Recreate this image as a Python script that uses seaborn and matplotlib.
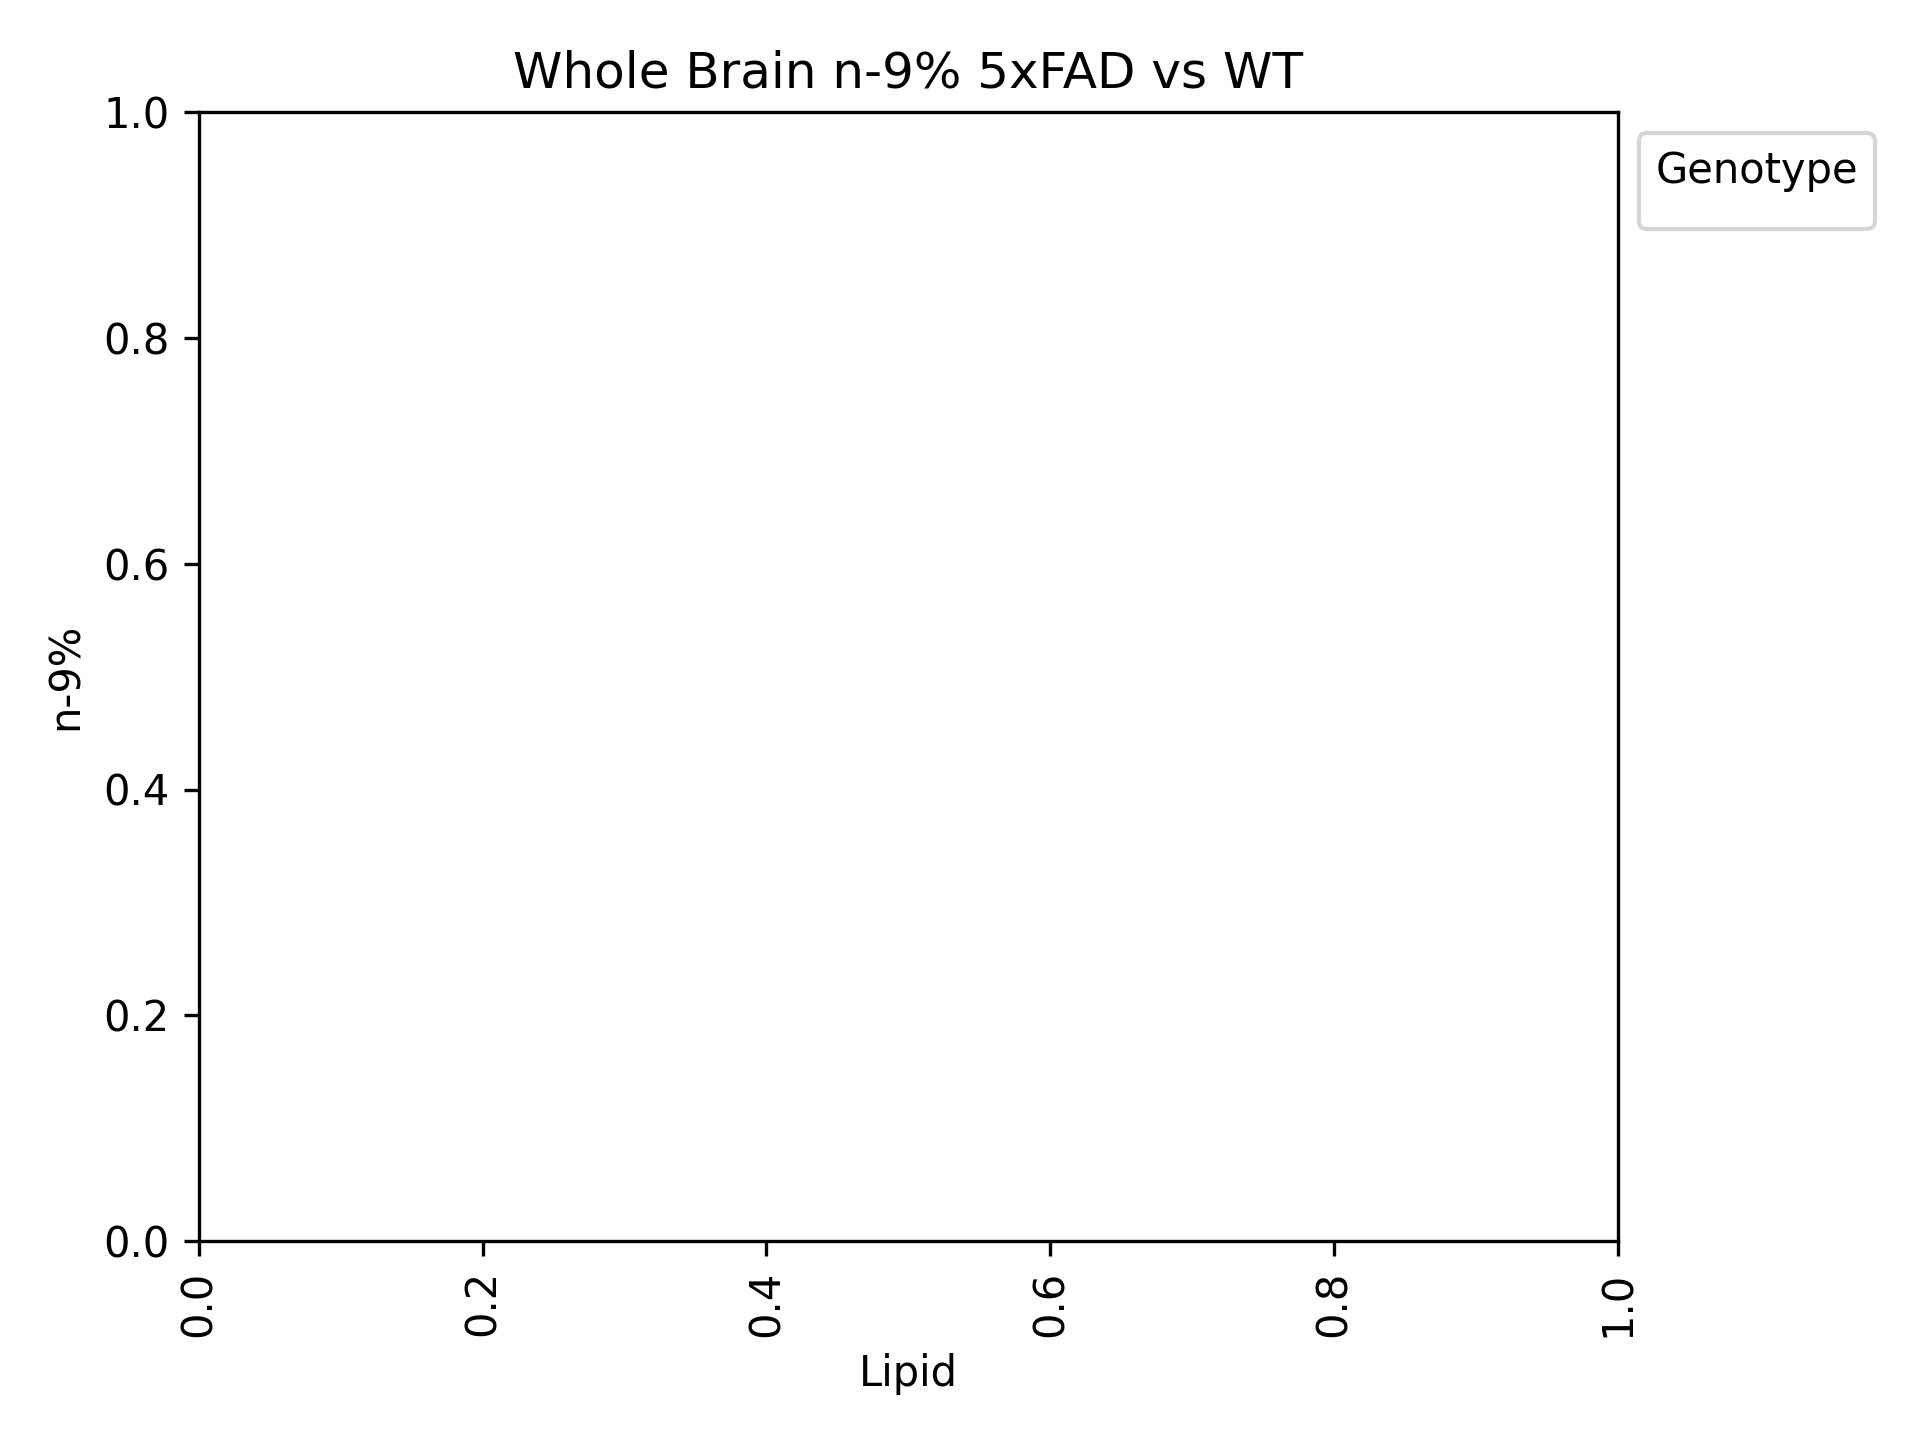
import pandas as pd
import seaborn as sns
import matplotlib.pyplot as plt

# the reference shows no bars at all: the filtered table was empty
lipids = []
genotypes = []
n9_values = []

df = pd.DataFrame({
    'Lipid': pd.Series(lipids, dtype=str),
    'Genotype': pd.Series(genotypes, dtype=str),
    'n-9%': pd.Series(n9_values, dtype=float),
})

fig, ax = plt.subplots(figsize=(6.4, 4.8))
sns.barplot(data=df, x='Lipid', y='n-9%', hue='Genotype', ax=ax)

ax.set_title('Whole Brain n-9% 5xFAD vs WT')
ax.set_xlabel('Lipid')
ax.set_ylabel('n-9%')
ax.set_xlim(0, 1)
ax.set_ylim(0, 1)
plt.xticks(rotation=90)
ax.legend(title='Genotype', bbox_to_anchor=(1, 1), loc='upper left')

plt.tight_layout()
plt.savefig('out.png', dpi=300)
